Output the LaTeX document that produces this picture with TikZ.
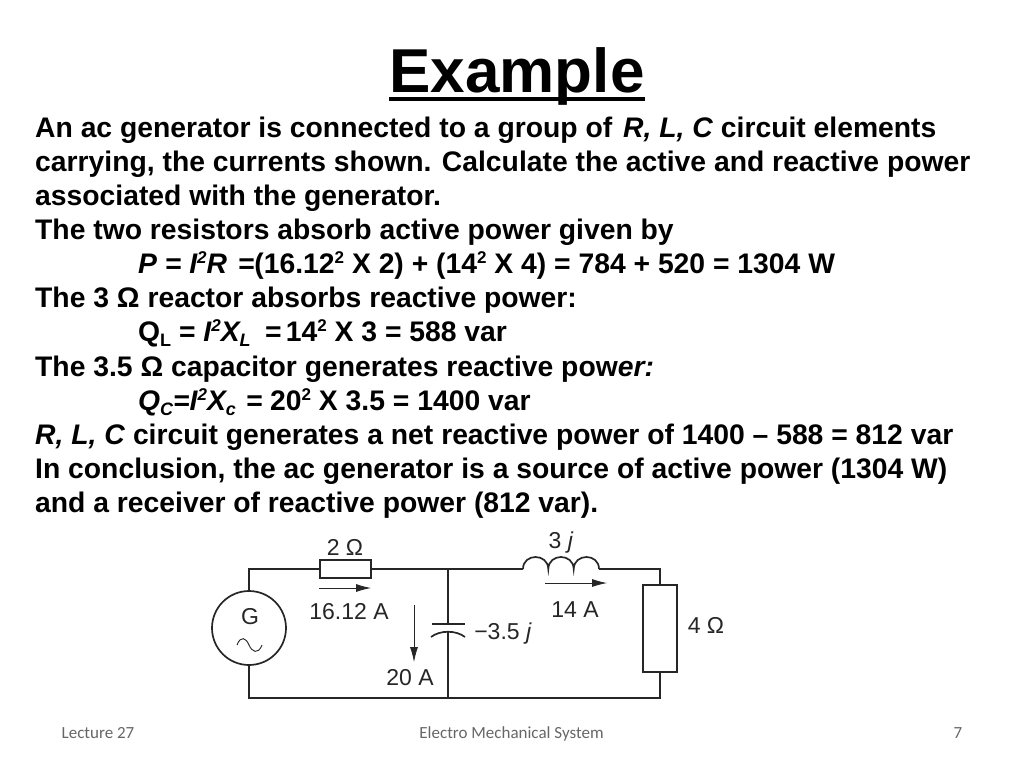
\documentclass[tikz,border=0pt]{standalone}
\usepackage{fontspec}
\usetikzlibrary{arrows.meta}
\setmainfont{Liberation Sans}
\newfontfamily\footfont{Carlito}
\newcommand{\sups}[1]{\raisebox{0.32em}{\fontsize{17}{17}\selectfont #1}}
\newcommand{\subs}[1]{\raisebox{-0.2em}{\fontsize{18}{18}\selectfont #1}}
\begin{document}
\begin{tikzpicture}[x=1pt,y=-1pt,
    textline/.style={anchor=base west, inner sep=0pt, font=\fontsize{28.3}{32}\selectfont\bfseries},
    footline/.style={anchor=base, inner sep=0pt, text=black!60, font=\fontsize{17}{20}\selectfont\footfont},
    partname/.style={anchor=base, inner sep=0pt, text=black!85, font=\fontsize{23}{26}\selectfont},
    wire/.style={line width=1.7pt, black!85},
    element/.style={draw=black!85, line width=1.7pt, fill=white, inner sep=0pt},
    current/.style={line width=0.8pt, black!85, -{Latex[length=15pt,width=8pt]}}]
    \useasboundingbox (0,0) rectangle (1024,768);

    \node[anchor=base, inner sep=0pt, font=\fontsize{62}{68}\selectfont\bfseries] (title) at (517,92) {Example};
    \draw[line width=3.2pt] ([yshift=-7pt]title.base west) -- ([yshift=-7pt]title.base east);

    \node[textline] (line1) at (35,137) {An ac generator is connected to a group of\hspace{3pt} \textit{R, L, C} circuit elements};
    \node[textline] (line2) at (35,171) {carrying, the currents shown. Calculate the active and reactive power};
    \node[textline] (line3) at (35,205) {associated with the generator.};
    \node[textline] (line4) at (35,239) {The two resistors absorb active power given by};
    \node[textline] (line5) at (138,273) {\textit{P = I\sups{2}R\hspace{3pt} =}(16.12\sups{2} X 2) + (14\sups{2} X 4) = 784 + 520 = 1304 W};
    \node[textline] (line6) at (35,307) {The 3 Ω reactor absorbs reactive power:};
    \node[textline] (line7) at (138,341) {Q\subs{L} = \textit{I\sups{2}X\subs{L}\hspace{6pt} =}\hspace{-3pt} 14\sups{2} X 3 = 588 var};
    \node[textline] (line8) at (35,376) {The 3.5 Ω capacitor generates reactive pow\textit{er:}};
    \node[textline] (line9) at (138,410) {\textit{Q\subs{C}=I\sups{2}X\subs{c}\hspace{2pt} =} 20\sups{2} X 3.5 = 1400 var};
    \node[textline] (line10) at (35,444) {\textit{R, L, C} circuit generates a net reactive power of 1400 – 588 = 812 var};
    \node[textline] (line11) at (35,478) {In conclusion, the ac generator is a source of active power (1304 W)};
    \node[textline] (line12) at (35,512) {and a receiver of reactive power (812 var).};

    \coordinate (tl) at (249,569);
    \coordinate (bl) at (249,698);
    \coordinate (tm) at (448,569);
    \coordinate (bm) at (448,698);
    \coordinate (tr) at (660,569);
    \coordinate (br) at (660,698);
    \coordinate (capa) at (448,624);
    \coordinate (capb) at (448,632);
    \coordinate (inda) at (523,569);
    \coordinate (indb) at (599,569);

    \node[element, circle, minimum size=74pt] (gen) at (249,628) {};
    \node[element, minimum width=51pt, minimum height=18pt] (r2) at (345.5,569) {};
    \node[element, minimum width=34pt, minimum height=87pt] (r4) at (660,628.5) {};

    \draw[wire] (gen) -- (tl) -- (r2) -- (tm) -- (inda);
    \draw[wire] (gen) -- (bl) -- (br) -- (r4) -- (tr) -- (indb);
    \draw[wire] (tm) -- (capa);
    \draw[wire] (capb) -- (bm);
    \draw[wire] (432,624) -- (465,624);
    \draw[wire] (431,637) .. controls (440,630) and (456,630) .. (465,637);
    \draw[wire] (inda) .. controls (523,553) and (548,553) .. (548.3,569)
        .. controls (548.6,553) and (573.4,553) .. (573.7,569)
        .. controls (574,553) and (599,553) .. (indb);
    \draw[line width=0.9pt, black!85] (237,645) .. controls (241,635) and (246,638) .. (249,645)
        .. controls (252,652) and (258,655) .. (262,645);

    \coordinate (ia) at (319,588);
    \coordinate (ib) at (371,588);
    \coordinate (ic) at (414,605);
    \coordinate (id) at (414,662);
    \coordinate (ie) at (545,583);
    \coordinate (if) at (607,583);
    \draw[current] (ia) -- (ib);
    \draw[current] (ic) -- (id);
    \draw[current] (ie) -- (if);

    \node[partname] (gname) at (250,624) {G};
    \node[partname] (r2name) at (345,555) {2 Ω};
    \node[partname] (i1name) at (349,619) {16.12 A};
    \node[partname] (i2name) at (410,685) {20 A};
    \node[partname] (capname) at (503,639) {−3.5 \textit{j}};
    \node[partname] (indname) at (561,548) {3 \textit{j}};
    \node[partname] (i3name) at (575,617) {14 A};
    \node[partname] (r4name) at (706,633) {4 Ω};

    \node[footline] (foot1) at (98,738) {Lecture 27};
    \node[footline] (foot2) at (511.5,738) {Electro Mechanical System};
    \node[footline] (foot3) at (958,738) {7};
\end{tikzpicture}
\end{document}
